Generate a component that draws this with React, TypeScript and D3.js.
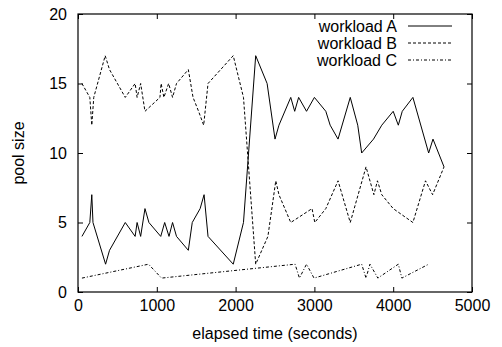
import React, { useEffect, useRef } from "react";
import * as d3 from "d3";

const xTicks = [0, 1000, 2000, 3000, 4000, 5000];
const yTicks = [0, 5, 10, 15, 20];
const seriesNames = ["workload A", "workload B", "workload C"];

const workloadATimes = [50, 150, 175, 190, 350, 400, 600, 725, 750, 795, 850, 900, 1050, 1100, 1155, 1200, 1250, 1400, 1450, 1550, 1600, 1650, 1970, 2100, 2255, 2400, 2500, 2550, 2700, 2750, 2800, 2900, 3000, 3145, 3200, 3300, 3455, 3550, 3600, 3750, 3855, 4000, 4065, 4115, 4250, 4450, 4505, 4645];
const workloadAValues = [4, 5, 7, 5, 2, 3, 5, 4, 5, 4, 6, 5, 4, 5, 4, 5, 4, 3, 5, 6, 7, 4, 2, 5, 17, 15, 11, 12, 14, 13, 14, 13, 14, 13, 12, 11, 14, 12, 10, 11, 12, 13, 12, 13, 14, 10, 11, 9];

const workloadBTimes = [50, 150, 175, 200, 345, 400, 600, 725, 750, 795, 850, 1040, 1055, 1090, 1150, 1200, 1250, 1400, 1460, 1530, 1595, 1650, 1970, 2100, 2255, 2410, 2510, 2550, 2700, 2970, 3005, 3145, 3300, 3455, 3655, 3755, 3800, 3855, 4000, 4250, 4410, 4500, 4645];
const workloadBValues = [15, 14, 12, 14, 17, 16, 14, 15, 14, 15, 13, 14, 15, 14, 15, 14, 15, 16, 14, 13, 12, 15, 17, 14, 2, 4, 8, 7, 5, 6, 5, 6, 8, 5, 9, 7, 8, 7, 6, 5, 8, 7, 9];

const workloadCTimes = [50, 895, 1060, 2755, 2810, 2900, 2995, 3600, 3655, 3705, 3805, 4065, 4110, 4450];
const workloadCValues = [1, 2, 1, 2, 1, 2, 1, 2, 1, 2, 1, 2, 1, 2];

const dashes = [null, "3,2", "3,2,1,2"];
const FONT = "'Liberation Sans', Arial, Helvetica, sans-serif";
const FS = 16;

export default function App() {
  const ref = useRef<SVGSVGElement | null>(null);

  useEffect(() => {
    const svg = d3.select(ref.current);
    svg.selectAll("*").remove();

    const x = d3.scaleLinear().domain([0, 5000]).range([78, 472]);
    const y = d3.scaleLinear().domain([0, 20]).range([292, 14]);

    const g = svg.append("g").attr("font-family", FONT);

    const axisB = d3.axisBottom(x).tickValues(xTicks).tickSizeInner(-5).tickSizeOuter(0).tickPadding(8).tickFormat(d3.format("d"));
    const axisL = d3.axisLeft(y).tickValues(yTicks).tickSizeInner(-5).tickSizeOuter(0).tickPadding(11).tickFormat(d3.format("d"));
    const axisT = d3.axisTop(x).tickValues(xTicks).tickSizeInner(-5).tickSizeOuter(0).tickFormat(() => "");
    const axisR = d3.axisRight(y).tickValues(yTicks).tickSizeInner(-5).tickSizeOuter(0).tickFormat(() => "");

    const styleAxis = (sel: any) => {
      sel.select(".domain").remove();
      sel.selectAll("line").attr("stroke", "#000");
      sel.selectAll("text").attr("font-size", FS).attr("font-family", FONT).attr("fill", "#000");
    };

    g.append("g").attr("transform", "translate(0,292)").call(axisB).call(styleAxis);
    g.append("g").attr("transform", "translate(78,0)").call(axisL).call(styleAxis);
    g.append("g").attr("transform", "translate(0,14)").call(axisT).call(styleAxis);
    g.append("g").attr("transform", "translate(472,0)").call(axisR).call(styleAxis);

    g.append("rect")
      .attr("x", 78).attr("y", 14).attr("width", 394).attr("height", 278)
      .attr("fill", "none").attr("stroke", "#000").attr("stroke-width", 1.2);

    const line = d3.line<[number, number]>().x((d) => x(d[0])).y((d) => y(d[1]));

    const series: [number, number][][] = [
      workloadATimes.map((t, i) => [t, workloadAValues[i]]),
      workloadBTimes.map((t, i) => [t, workloadBValues[i]]),
      workloadCTimes.map((t, i) => [t, workloadCValues[i]]),
    ];

    series.forEach((data, i) => {
      const p = g.append("path")
        .attr("d", line(data))
        .attr("fill", "none")
        .attr("stroke", "#000")
        .attr("stroke-width", 1);
      if (dashes[i]) p.attr("stroke-dasharray", dashes[i]);
    });

    // legend
    seriesNames.forEach((name, i) => {
      const yy = 26 + i * 17;
      g.append("text")
        .attr("x", 397).attr("y", yy).attr("dy", "0.35em")
        .attr("text-anchor", "end").attr("font-size", FS).attr("fill", "#000")
        .text(name);
      const l = g.append("line")
        .attr("x1", 408).attr("x2", 452).attr("y1", yy).attr("y2", yy)
        .attr("stroke", "#000").attr("stroke-width", 1);
      if (dashes[i]) l.attr("stroke-dasharray", dashes[i]);
    });

    // axis titles
    g.append("text")
      .attr("x", 275).attr("y", 339)
      .attr("text-anchor", "middle").attr("font-size", FS).attr("fill", "#000")
      .text("elapsed time (seconds)");
    g.append("text")
      .attr("transform", "translate(24,153) rotate(-90)")
      .attr("text-anchor", "middle").attr("font-size", FS).attr("fill", "#000")
      .text("pool size");
  }, []);

  return (
    <svg
      ref={ref}
      width={502}
      height={347}
      style={{ position: "absolute", left: 0, top: 0, background: "#fff" }}
    />
  );
}
